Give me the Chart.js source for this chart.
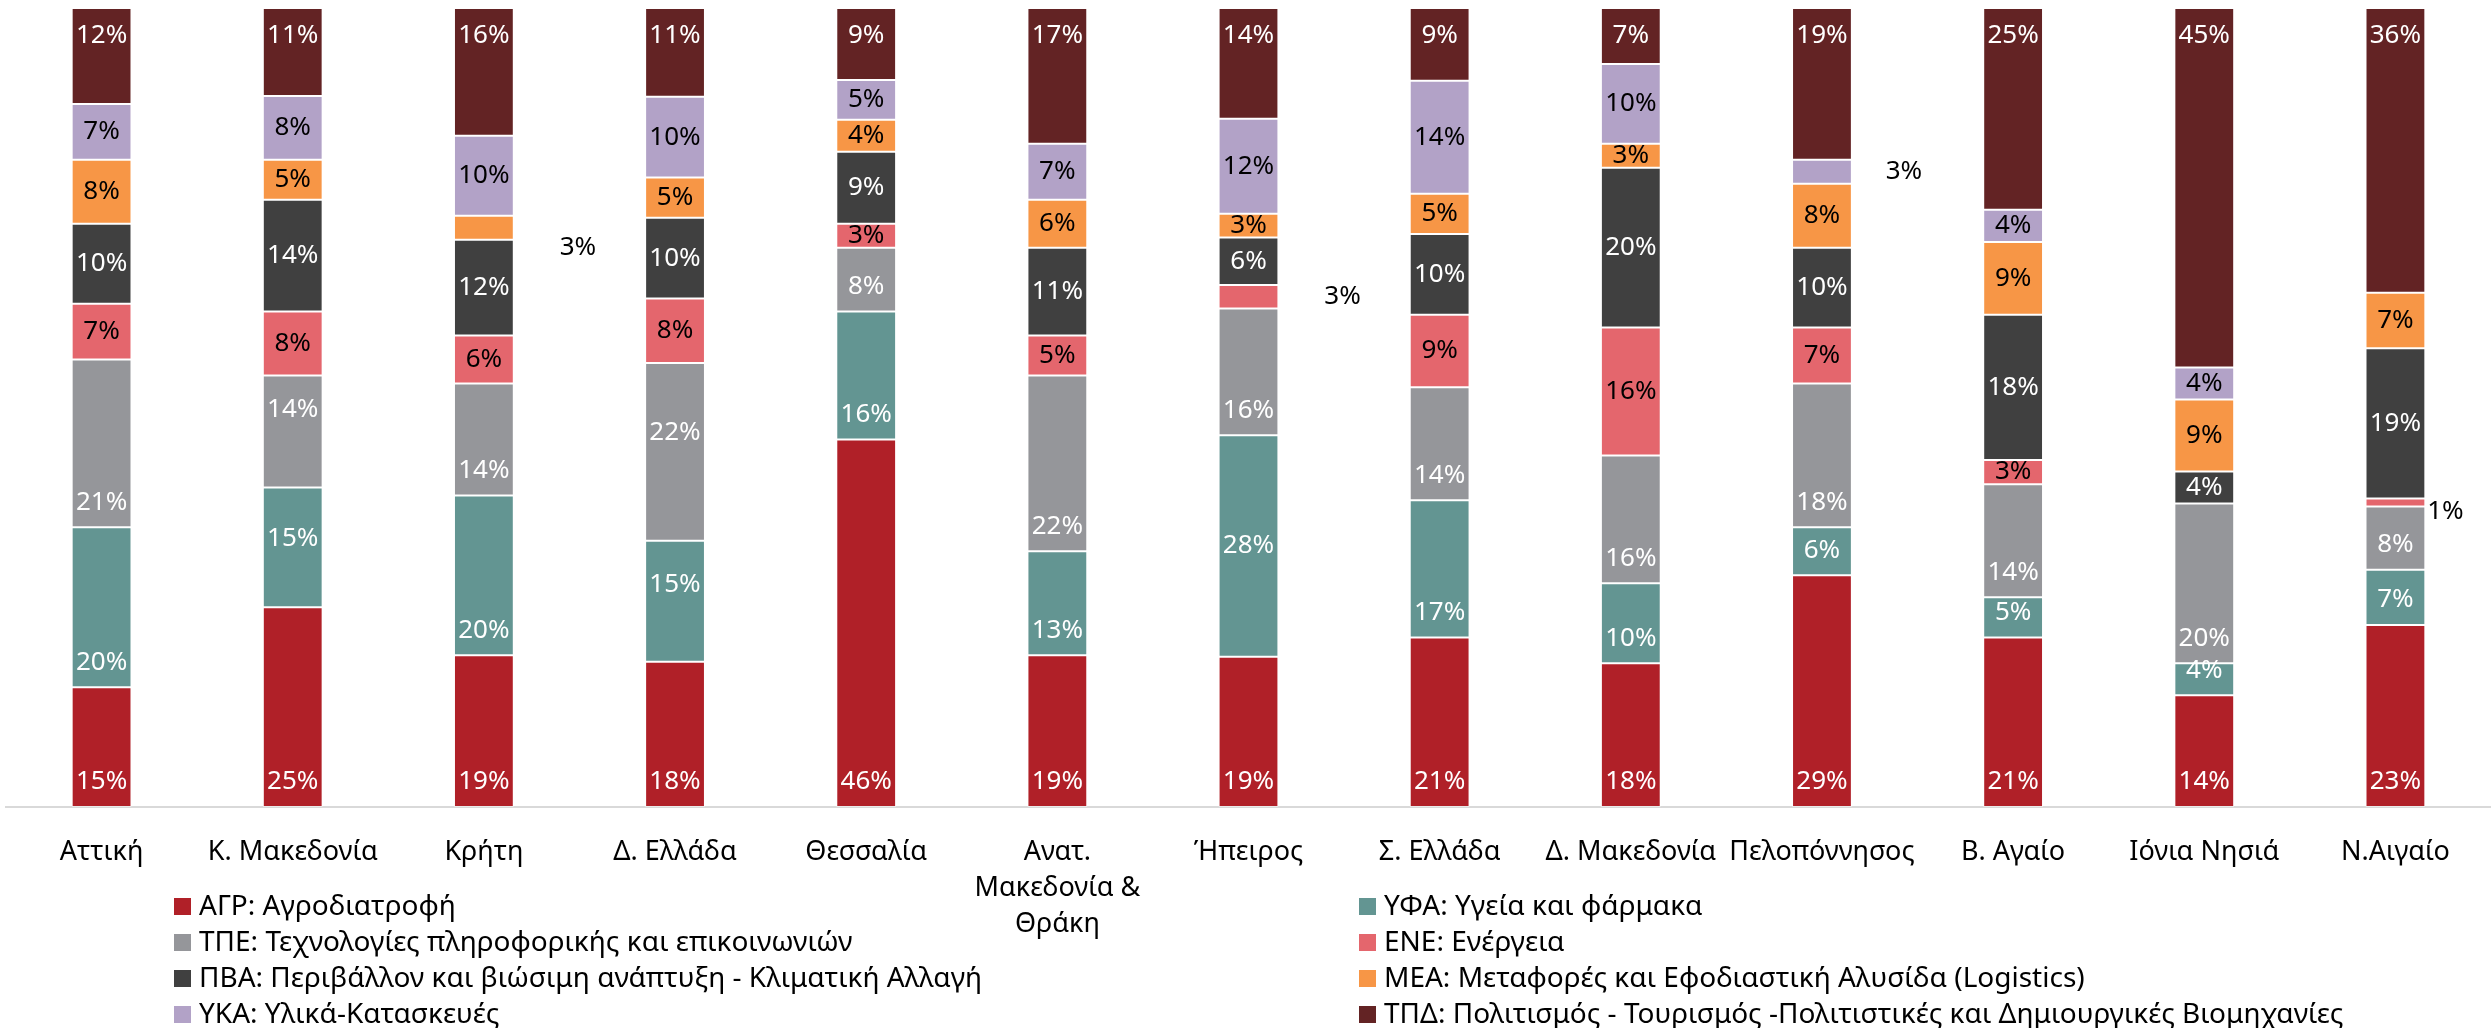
<!DOCTYPE html>
<html lang="el">
<head>
<meta charset="utf-8">
<title>Περιφέρειες - τομείς</title>
<script src="https://cdn.jsdelivr.net/npm/chart.js@4.4.1/dist/chart.umd.min.js"></script>
<style>
  body { margin: 0; background: #fff; }
  #chart { display: block; }
</style>
</head>
<body>
<canvas id="chart" width="2491" height="1028"></canvas>
<script>
// regions (x axis)
const regions = ['Αττική', 'Κ. Μακεδονία', 'Κρήτη', 'Δ. Ελλάδα', 'Θεσσαλία',
  ['Ανατ.', 'Μακεδονία &', 'Θράκη'], 'Ήπειρος', 'Σ. Ελλάδα', 'Δ. Μακεδονία',
  'Πελοπόννησος', 'Β. Αγαίο', 'Ιόνια Νησιά', 'Ν.Αιγαίο'];

// share of each sector per region (%), bottom to top of the stack
const agr = [15, 25, 19, 18, 46, 19, 19, 21, 18, 29, 21, 14, 23];
const yfa = [20, 15, 20, 15, 16, 13, 28, 17, 10, 6, 5, 4, 7];
const tpe = [21, 14, 14, 22, 8, 22, 16, 14, 16, 18, 14, 20, 8];
const ene = [7, 8, 6, 8, 3, 5, 3, 9, 16, 7, 3, 0, 1];
const pva = [10, 14, 12, 10, 9, 11, 6, 10, 20, 10, 18, 4, 19];
const mea = [8, 5, 3, 5, 4, 6, 3, 5, 3, 8, 9, 9, 7];
const yka = [7, 8, 10, 10, 5, 7, 12, 14, 10, 3, 4, 4, 0];
const tpd = [12, 11, 16, 11, 9, 17, 14, 9, 7, 19, 25, 45, 36];

const sectorNames = [
  'ΑΓΡ: Αγροδιατροφή',
  'ΥΦΑ: Υγεία και φάρμακα',
  'ΤΠΕ: Τεχνολογίες πληροφορικής και επικοινωνιών',
  'ΕΝΕ: Ενέργεια',
  'ΠΒΑ: Περιβάλλον και βιώσιμη ανάπτυξη - Κλιματική Αλλαγή',
  'ΜΕΑ: Μεταφορές και Εφοδιαστική Αλυσίδα (Logistics)',
  'ΥΚΑ: Υλικά-Κατασκευές',
  'ΤΠΔ: Πολιτισμός - Τουρισμός -Πολιτιστικές και Δημιουργικές Βιομηχανίες'
];
const series = [agr, yfa, tpe, ene, pva, mea, yka, tpd];

const colors = ['#B02028', '#639592', '#95969A', '#E4666D', '#404040', '#F79646', '#B2A2C7', '#632324'];
const labelColors = ['#fff', '#fff', '#fff', '#000', '#fff', '#000', '#000', '#fff'];
// where the % label sits inside a segment: base, center or end
const anchors = ['base', 'base', 'base', 'center', 'center', 'center', 'center', 'end'];
// labels moved by hand: [series, region, dx, dy from segment centre, outside?]
const moved = [
  [2, 1, 0, -22, false], [1, 1, 0, -9, false],
  [2, 3, 0, -19, false], [1, 3, 0, -17, false],
  [1, 6, 0, 0, false],
  [5, 2, 94, 20, true], [3, 6, 94, 0, true],
  [6, 9, 82, 0, true], [3, 12, 50, 9, true]
];

const FONT = "'Liberation Sans Narrow', 'Arial Narrow', 'Noto Sans', sans-serif";

// every column is drawn as 100%
const totals = regions.map((r, i) => series.reduce((s, a) => s + a[i], 0));

const datasets = series.map((vals, k) => ({
  label: sectorNames[k],
  data: vals.map((v, i) => v / totals[i] * 100),
  backgroundColor: colors[k],
  borderColor: 'rgba(255,255,255,0.45)',
  borderWidth: 1,
  borderSkipped: false,
  barPercentage: 0.313,
  categoryPercentage: 1
}));

const segLabels = {
  id: 'segLabels',
  afterDatasetsDraw(chart) {
    const c = chart.ctx;
    c.save();
    c.font = '26px ' + FONT;
    c.textAlign = 'center';
    c.textBaseline = 'middle';
    series.forEach((vals, k) => {
      const meta = chart.getDatasetMeta(k);
      meta.data.forEach((bar, i) => {
        const v = vals[i];
        if (!v) return;
        const top = Math.min(bar.y, bar.base), bottom = Math.max(bar.y, bar.base);
        const mid = (top + bottom) / 2;
        const m = moved.find(o => o[0] === k && o[1] === i);
        let x = bar.x, y = mid;
        c.fillStyle = labelColors[k];
        if (m) {
          x += m[2]; y += m[3];
          if (m[4]) c.fillStyle = '#000';
        } else if (anchors[k] === 'base') {
          y = bottom - 25;
        } else if (anchors[k] === 'end') {
          y = top + 28;
        }
        c.fillText(v + '%', x, y);
      });
    });
    c.restore();
  }
};

// two-column legend under the axis labels
const gridLegend = {
  id: 'gridLegend',
  afterDraw(chart) {
    const c = chart.ctx;
    c.save();
    c.font = '28px ' + FONT;
    c.textBaseline = 'middle';
    c.textAlign = 'left';
    chart.data.datasets.forEach((ds, k) => {
      const col = k % 2, row = Math.floor(k / 2);
      const x = col ? 1359 : 174;
      const y = 906 + row * 36;
      c.fillStyle = ds.backgroundColor;
      c.fillRect(x, y - 8, 17, 17);
      c.fillStyle = '#000';
      c.fillText(ds.label, x + 25, y + 1);
    });
    c.restore();
  }
};

new Chart(document.getElementById('chart'), {
  type: 'bar',
  data: { labels: regions, datasets },
  options: {
    responsive: false,
    animation: false,
    layout: { padding: { top: 8, left: 6, right: -7, bottom: 0 } },
    plugins: { legend: { display: false }, tooltip: { enabled: false } },
    scales: {
      x: {
        stacked: true,
        grid: { display: false },
        border: { display: true, color: '#D9D9D9', width: 2 },
        ticks: {
          color: '#000',
          padding: 19,
          maxRotation: 0,
          autoSkip: false,
          font: { family: FONT, size: 27, lineHeight: 1.333 }
        },
        afterFit(scale) { scale.height = 221; }
      },
      y: { stacked: true, min: 0, max: 100, display: false }
    }
  },
  plugins: [segLabels, gridLegend]
});
</script>
</body>
</html>
